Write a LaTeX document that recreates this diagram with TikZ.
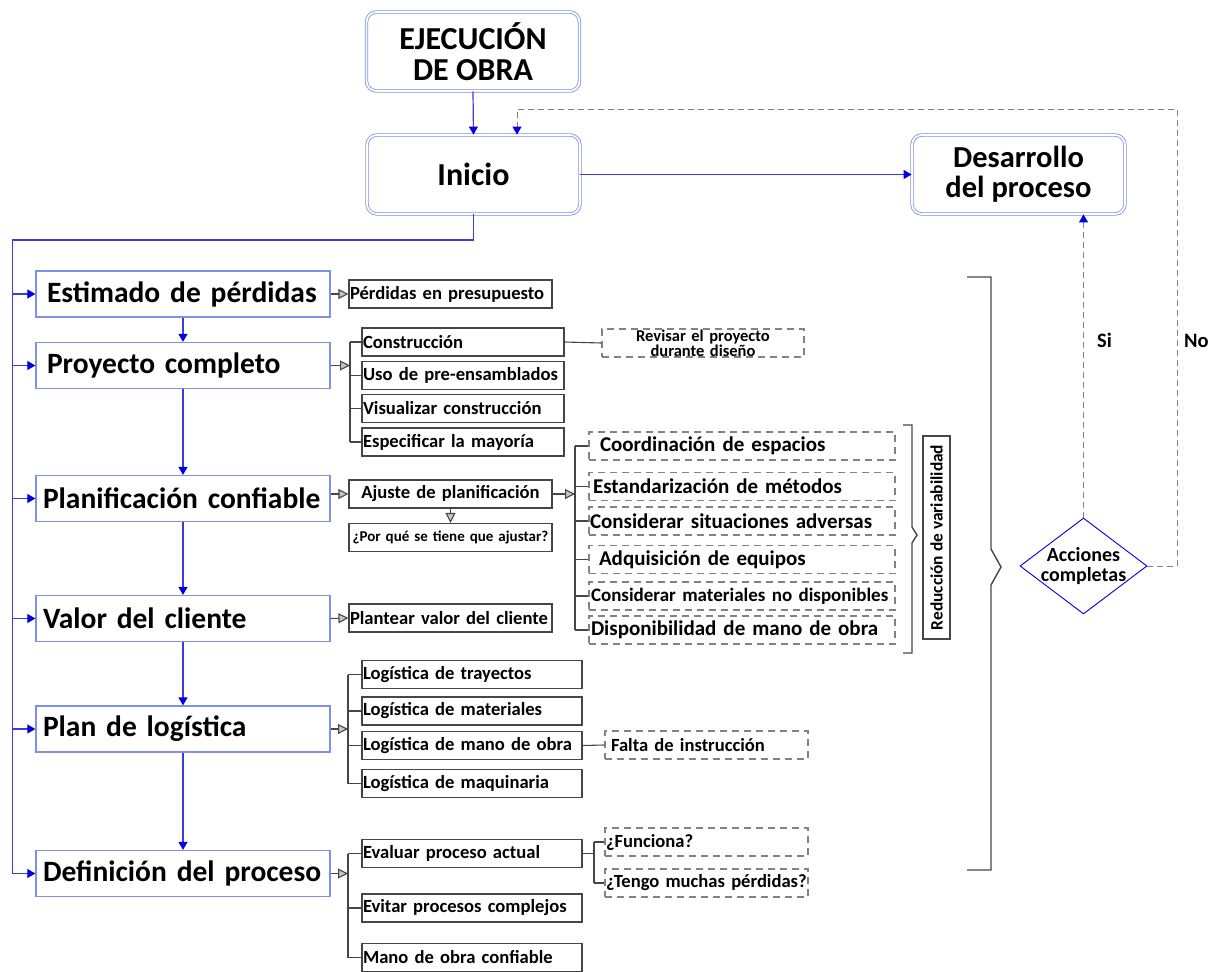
\documentclass[tikz,border=0pt]{standalone}
\usepackage{fontspec}
\setmainfont{Carlito}
\usetikzlibrary{arrows.meta, positioning, calc, shapes.geometric}

\definecolor{boxblue}{RGB}{125,145,230}
\definecolor{lineblue}{RGB}{60,60,220}
\definecolor{tipblue}{RGB}{0,0,225}
\definecolor{graydark}{RGB}{70,70,70}
\definecolor{dashgray}{RGB}{130,130,130}

\hyphenpenalty=10000
\exhyphenpenalty=10000

\begin{document}
\begin{tikzpicture}[x=1pt, y=-1pt, line join=miter]
	
	\tikzset{
		roundbox/.style={draw=boxblue, double=white, double distance=1.8pt, line width=0.8pt, rounded corners=10pt, minimum width=213pt, minimum height=79pt, inner sep=0pt, align=center, font=\fontsize{32}{31}\selectfont\bfseries},
		mainbox/.style={draw=boxblue, line width=1.3pt, text width=280pt, inner xsep=7pt, inner ysep=0pt, minimum height=46pt, align=left, font=\fontsize{29.5}{30}\selectfont\bfseries},
		subbox/.style={draw=graydark, line width=1.2pt, text width=#1, inner xsep=1pt, inner ysep=0pt, minimum height=28pt, align=left, font=\fontsize{18.6}{20}\selectfont\bfseries},
		dbox/.style={subbox=#1, draw=dashgray, dash pattern=on 7pt off 5pt},
		vbox/.style={dbox=304pt, font=\fontsize{21}{22}\selectfont\bfseries},
		bline/.style={draw=lineblue, line width=1.2pt},
		barrow/.style={bline, -{Triangle[length=8pt,width=9pt,color=tipblue]}},
		gline/.style={draw=graydark, line width=1.1pt},
		garrow/.style={gline, -{Triangle[length=10pt,width=10pt,fill=gray!45]}},
		help/.style={draw=dashgray, line width=1pt, dash pattern=on 6pt off 4pt},
		bhelp/.style={help, -{Triangle[length=8pt,width=9pt,color=tipblue]}},
		brace/.style={draw=graydark, line width=1.4pt},
		tag/.style={font=\fontsize{20.5}{20}\selectfont\bfseries, inner sep=0pt}
	}
	
	\useasboundingbox (0,0) rectangle (1211,972);
	
	% top of the chart
	\node[roundbox] (ejec) at (473,51.5) {EJECUCIÓN\\DE OBRA};
	\node[roundbox] (inicio) at (473.5,174.5) {Inicio};
	\node[roundbox, font=\fontsize{30.5}{30}\selectfont\bfseries] (desa) at (1018.5,174.5) {Desarrollo\\del proceso};
	\node[diamond, draw=tipblue, line width=0.9pt, aspect=1.3, inner sep=-4pt, minimum width=127pt, minimum height=96pt, align=center, font=\fontsize{20}{19.5}\selectfont\bfseries] (acc) at (1083.5,566) {Acciones\\completas};
	\node[tag, anchor=west] (si) at (1097,340) {Si};
	\node[tag, anchor=west] (no) at (1184,341) {No};
	
	% main steps
	\node[mainbox] (est) at (183,294) {\hspace*{4pt}Estimado de pérdidas};
	\node[mainbox] (proy) at (183,365.5) {\hspace*{4pt}Proyecto completo};
	\node[mainbox] (plan) at (183,498.5) {Planificación confiable};
	\node[mainbox] (valor) at (183,618.5) {Valor del cliente};
	\node[mainbox] (logi) at (183,729) {Plan de logística};
	\node[mainbox] (defi) at (183,873.5) {Definición del proceso};
	
	% sub items
	\node[subbox=201pt] (perd) at (450.5,294) {Pérdidas en presupuesto};
	\node[subbox=200pt] (cons) at (463,342) {Construcción};
	\node[subbox=200pt] (uso) at (463,375.5) {Uso de pre-ensamblados};
	\node[subbox=200pt] (visu) at (463,408.5) {Visualizar construcción};
	\node[subbox=200pt] (espe) at (463,442) {Especificar la mayoría};
	\node[subbox=201pt, align=center] (ajus) at (450.5,494) {Ajuste de planificación};
	\node[subbox=201pt, align=center, font=\fontsize{15}{16}\selectfont\bfseries] (porq) at (450.5,537.5) {\mbox{¿Por qué se tiene que ajustar?}};
	\node[subbox=201pt] (plant) at (450.5,618) {Plantear valor del cliente};
	\node[subbox=218pt] (lt1) at (472,674.5) {Logística de trayectos};
	\node[subbox=218pt] (lt2) at (472,711) {Logística de materiales};
	\node[subbox=218pt] (lt3) at (472,745.5) {Logística de mano de obra};
	\node[subbox=218pt] (lt4) at (472,783.5) {Logística de maquinaria};
	\node[subbox=218pt] (eva) at (472,853.5) {Evaluar proceso actual};
	\node[subbox=218pt] (evi) at (472,908) {Evitar procesos complejos};
	\node[subbox=218pt] (mano) at (472,957.5) {Mano de obra confiable};
	
	% dashed items
	\node[dbox=200pt, align=center, font=\fontsize{16.5}{11.5}\selectfont\bfseries] (revi) at (703,343) {Revisar el proyecto\\durante diseño};
	\node[dbox=201pt] (fal) at (706.5,745) {\hspace*{5pt}Falta de instrucción};
	\node[dbox=201pt] (fun) at (706.5,842) {¿Funciona?};
	\node[dbox=201pt] (ten) at (706.5,883) {¿Tengo muchas pérdidas?};
	\node[vbox] (coo) at (742,446) {\hspace*{10pt}Coordinación de espacios};
	\node[vbox] (est2) at (742,486.5) {\hspace*{3pt}Estandarización de métodos};
	\node[vbox] (cons2) at (742,521) {Considerar situaciones adversas};
	\node[vbox] (adq) at (742,559.5) {\hspace*{9pt}Adquisición de equipos};
	\node[vbox, font=\fontsize{19}{20}\selectfont\bfseries] (cmat) at (742,596) {\hspace*{1pt}Considerar materiales no disponibles};
	\node[vbox] (disp) at (742,630) {\hspace*{1pt}Disponibilidad de mano de obra};
	\node[draw=graydark, line width=1.2pt, rotate=90, minimum width=203pt, minimum height=27pt, inner sep=0pt, font=\fontsize{17.4}{18}\selectfont\bfseries] (redu) at (936.5,537.5) {Reducción de variabilidad};
	
	% blue flow
	\coordinate (tr) at (12.6,240);
	\draw[bline] (inicio.south) |- (tr) -- (tr |- defi.west);
	\foreach \n in {est,proy,plan,valor,logi,defi}
		\draw[barrow] (tr |- \n.west) -- (\n.west);
	\foreach \a/\b in {est/proy,proy/plan,plan/valor,valor/logi,logi/defi}
		\draw[barrow] (\a.south) -- (\b.north);
	\draw[barrow] (ejec.south) -- (inicio.north);
	\draw[barrow] (inicio.east) -- (desa.west);
	
	\coordinate (nr) at (1177,109);
	\draw[bhelp] (acc.north) -- (acc.north |- desa.south);
	\draw[bhelp] (acc.east) -| (nr) -| ([xshift=43.5pt]inicio.north);
	
	% gray branches
	\draw[garrow] (est.east) -- (perd.west);
	
	\coordinate (b1) at (350,365.5);
	\draw[garrow] (proy.east) -- (b1);
	\draw[gline] (b1 |- cons.west) -- (b1 |- espe.west);
	\foreach \n in {cons,uso,visu,espe}
		\draw[gline] (b1 |- \n.west) -- (\n.west);
	\draw[gline] (cons.east) -- (revi.west);
	
	\draw[garrow] (plan.east |- ajus.west) -- (ajus.west);
	\draw[garrow] (ajus.south) -- (porq.north);
	\coordinate (b2) at (575,494);
	\draw[garrow] (ajus.east) -- (b2);
	\draw[gline] (b2 |- coo.west) -- (b2 |- disp.west);
	\foreach \n in {coo,est2,cons2,adq,cmat,disp}
		\draw[gline] (b2 |- \n.west) -- (\n.west);
	
	\draw[garrow] (valor.east) -- (plant.west);
	
	\coordinate (b3) at (348,729);
	\draw[garrow] (logi.east) -- (b3);
	\draw[gline] (b3 |- lt1.west) -- (b3 |- lt4.west);
	\foreach \n in {lt1,lt2,lt3,lt4}
		\draw[gline] (b3 |- \n.west) -- (\n.west);
	\draw[gline] (lt3.east) -- (fal.west);
	
	\coordinate (b4) at (348,873.5);
	\draw[garrow] (defi.east) -- (b4);
	\draw[gline] (b4 |- eva.west) -- (b4 |- mano.west);
	\foreach \n in {eva,evi,mano}
		\draw[gline] (b4 |- \n.west) -- (\n.west);
	
	\coordinate (b5) at (594,853.5);
	\draw[gline] (eva.east) -- (b5);
	\draw[gline] (b5 |- fun.west) -- (b5 |- ten.west);
	\foreach \n in {fun,ten}
		\draw[gline] (b5 |- \n.west) -- (\n.west);
	
	% braces
	\draw[brace] (967,277) -- (991,277) -- (991,549) -- (1001,567) -- (991,585) -- (991,870) -- (967,870);
	\draw[brace] (903,425) -- (912,425) -- (912,527) -- (917,535) -- (912,543) -- (912,653) -- (903,653);
	
\end{tikzpicture}
\end{document}
